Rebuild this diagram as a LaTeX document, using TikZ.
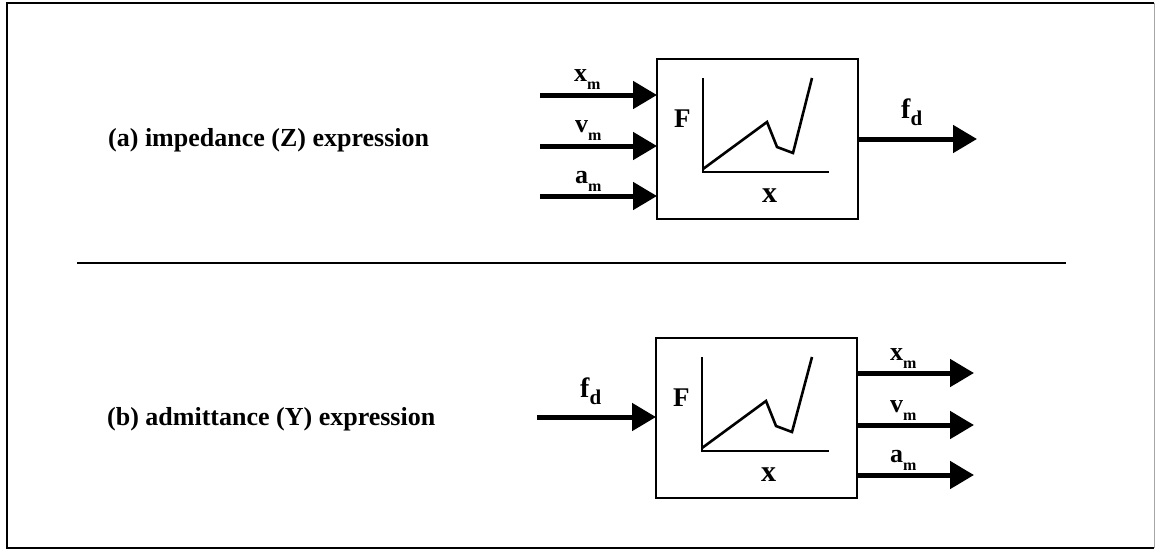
\documentclass[tikz,border=0pt]{standalone}
\usepackage{fontspec}
\setmainfont{Liberation Serif}
\usetikzlibrary{arrows.meta}
\newcommand\fs[1]{\fontsize{#1}{#1}\selectfont}
\newcommand\sig[2]{{\fs{26}#1}\raisebox{-8pt}{\fs{16}#2}}
\newcommand\fsig[2]{{\fs{28}#1}\raisebox{-7pt}{\fs{21}#2}}
\begin{document}
\begin{tikzpicture}[x=1pt,y=-1pt,
  blk/.style={draw, line width=2pt, minimum width=201pt, minimum height=160pt, inner sep=0pt, outer sep=0pt, anchor=north west},
  sigarrow/.style={line width=5pt, -{Triangle[length=24pt,width=27pt]}},
  lbl/.style={anchor=base west, inner sep=0pt, font=\bfseries},
  desc/.style={anchor=base west, inner sep=0pt, font=\bfseries\fs{26}},
  curve/.style={line width=2.6pt, line join=miter},
]
\useasboundingbox (0,0) rectangle (1155,550);
% frame
\draw[line width=1.4pt] (1154,3) -- (7,3) -- (7,548) -- (1154,548);
\draw[line width=0.6pt, black!35] (1154,3) -- (1154,548);
% divider
\coordinate (dl) at (77,263);
\coordinate (dr) at (1066,263);
\draw[line width=1.3pt] (dl) -- (dr);

% ---------- (a) ----------
\node[desc] (ta) at (108,146) {(a) impedance (Z) expression};
\node[blk] (ba) at (657,59) {};
\node[lbl] (Fa) at (674,127) {\fs{27}F};
\node[lbl] (Xa) at (762,202) {\fs{30}x};
\draw[curve] (703,78) -- (703,172) -- (829,172);
\draw[curve] (703,169) -- (767,122) -- (777,147) -- (793,153) -- (812,78);
\coordinate (ia1) at (540,95);
\coordinate (ia2) at (540,146);
\coordinate (ia3) at (540,196);
\draw[sigarrow] (ia1) -- (ia1 -| ba.west);
\draw[sigarrow] (ia2) -- (ia2 -| ba.west);
\draw[sigarrow] (ia3) -- (ia3 -| ba.west);
\node[lbl] (la1) at (574,81) {\sig{x}{m}};
\node[lbl] (la2) at (575,132) {\sig{v}{m}};
\node[lbl] (la3) at (575,183) {\sig{a}{m}};
\coordinate (oa) at (977,139);
\draw[sigarrow] (oa -| ba.east) -- (oa);
\node[lbl] (lfa) at (901,118) {\fsig{f}{d}};

% ---------- (b) ----------
\node[desc] (tb) at (107,425) {(b) admittance (Y) expression};
\node[blk] (bb) at (656,338) {};
\node[lbl] (Fb) at (673,406) {\fs{27}F};
\node[lbl] (Xb) at (761,481) {\fs{30}x};
\draw[curve] (702,357) -- (702,451) -- (829,451);
\draw[curve] (702,448) -- (766,401) -- (776,426) -- (792,432) -- (812,357);
\coordinate (ib) at (537,417);
\draw[sigarrow] (ib) -- (ib -| bb.west);
\node[lbl] (lfb) at (580,397) {\fsig{f}{d}};
\coordinate (ob1) at (974,373);
\coordinate (ob2) at (974,425);
\coordinate (ob3) at (974,475);
\draw[sigarrow] (ob1 -| bb.east) -- (ob1);
\draw[sigarrow] (ob2 -| bb.east) -- (ob2);
\draw[sigarrow] (ob3 -| bb.east) -- (ob3);
\node[lbl] (lb1) at (890,360) {\sig{x}{m}};
\node[lbl] (lb2) at (890,412) {\sig{v}{m}};
\node[lbl] (lb3) at (890,462) {\sig{a}{m}};
\end{tikzpicture}
\end{document}
